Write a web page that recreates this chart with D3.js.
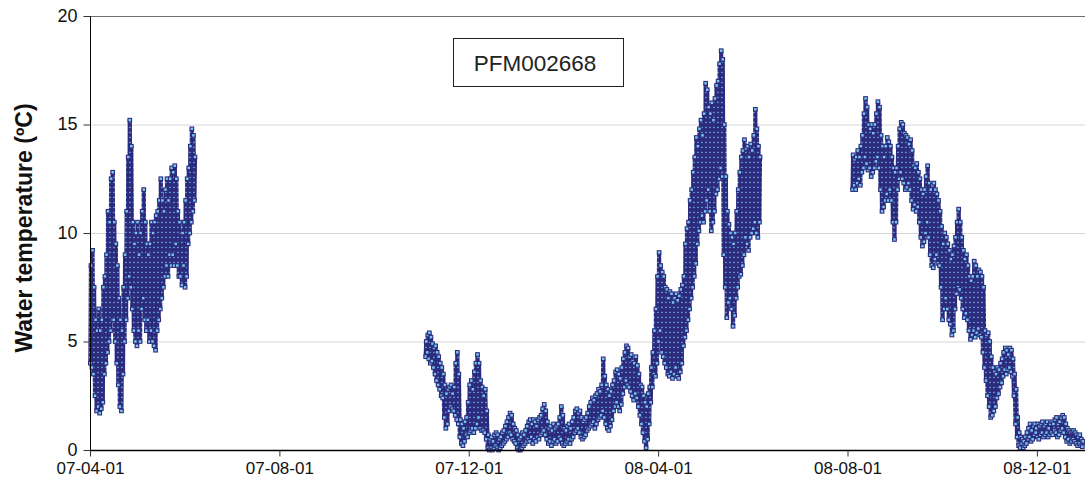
<!DOCTYPE html>
<html><head><meta charset="utf-8">
<script src="https://cdn.jsdelivr.net/npm/d3@7"></script>
<style>body{margin:0;background:#fff}svg{display:block}</style>
</head><body>
<svg id="chart" width="1085" height="496"></svg>
<script>
// ---- data ----
const yTicks = [0, 5, 10, 15, 20];
const xTickLabels = ["07-04-01", "07-08-01", "07-12-01", "08-04-01", "08-08-01", "08-12-01"];
const seriesName = "PFM002668";
const yTitle = "Water temperature (ºC)";

// daily low (early morning) and high (afternoon) readings per logging period
const seg1Start = "2007-04-01";
const seg1Lo = [4.0,3.8,3.5,2.5,1.8,2.0,1.7,1.9,2.2,3.5, 4.0,4.5,5.0,5.5,6.0,6.0,5.0,4.0,3.0,2.0,
  1.8,3.5,5.0,6.0,7.0,8.0,7.5,6.5,5.5,5.0, 4.8,5.5,5.0,6.5,7.0,6.0,5.5,6.0,5.0,5.5,
  5.0,4.8,4.6,5.5,6.0,6.5,7.0,7.5,8.0,8.5, 8.0,9.0,8.5,9.0,8.5,9.5,8.5,8.0,8.0,7.6,
  8.5,7.5,8.0,9.5,10.0,10.5,11.0,11.5];
const seg1Hi = [8.5,9.2,7.5,6.0,5.5,6.5,5.5,6.0,7.5,8.0, 9.0,11.0,10.5,12.5,12.8,10.5,9.5,8.5,7.0,6.0,
  5.5,7.5,9.0,11.0,13.5,15.2,14.0,10.5,9.5,10.0, 10.5,9.0,10.0,11.0,12.0,10.5,9.5,9.0,9.5,10.5,
  10.0,10.5,10.8,11.0,11.5,12.5,11.5,11.0,12.0,12.5, 11.5,12.5,13.0,12.8,13.1,12.5,11.0,10.5,10.0,10.0,
  10.5,11.5,12.5,13.0,14.0,14.8,14.5,13.5];

const seg2Start = "2007-11-03";
const seg2Lo = [4.3,4.5,4.2,4.0,4.1,3.8,3.5,3.2,3.0,2.8, 2.5,2.4,1.5,1.0,1.2,1.8,2.0,1.9,1.8,1.6,
  1.4,1.2,0.6,0.3,0.2,0.4,0.7,0.6,0.8,0.9, 1.0,0.8,1.0,1.2,1.5,1.0,0.9,0.9,0.8,0.5,
  0.1,0.0,0.1,0.0,0.1,0.2,0.1,0.0,0.1,0.2, 0.3,0.4,0.5,0.6,0.8,0.7,0.5,0.4,0.3,0.1,
  0.0,0.0,0.1,0.2,0.3,0.4,0.5,0.4,0.6,0.3, 0.5,0.4,0.6,0.5,0.7,0.8,0.9,0.7,0.5,0.3,
  0.4,0.2,0.4,0.5,0.3,0.4,0.6,0.5,0.3,0.2, 0.3,0.4,0.5,0.3,0.5,0.6,0.8,0.9,1.0,0.8,
  0.6,0.5,0.6,0.7,0.9,1.0,1.1,1.2,1.3,1.0, 1.2,1.4,1.5,1.6,1.8,1.5,1.2,1.0,0.9,1.1,
  1.4,1.8,2.0,2.2,2.0,1.8,2.1,2.6,2.9,3.2, 3.0,2.9,2.7,2.5,2.3,2.6,2.4,2.0,1.6,1.2,
  0.8,0.4,0.1,0.5,1.2,2.2,2.9,3.5,3.4,4.0, 5.0,5.5,4.5,4.3,4.0,3.8,3.5,3.4,3.6,3.3,
  3.5,3.8,3.4,3.3,3.6,4.0,4.8,5.2,5.5,6.0, 6.5,7.0,7.5,8.0,8.6,9.5,10.1,10.5,10.8,10.5,
  11.0,11.5,12.0,11.0,10.1,10.5,11.0,11.8,12.0,12.5, 13.0,12.6,9.0,7.5,6.1,6.8,7.0,6.5,5.7,6.2,
  7.0,7.5,8.0,8.1,8.5,9.0,9.8,9.5,9.2,9.8, 10.0,10.2,10.5,10.0,9.8,10.5];
const seg2Hi = [5.0,5.3,5.4,5.2,4.9,4.7,4.8,4.5,4.3,4.0, 3.8,3.5,3.0,2.6,2.8,2.9,3.0,2.6,2.9,4.0,
  4.5,3.5,1.4,1.2,1.0,1.3,1.5,2.2,3.0,3.2, 2.8,3.6,4.0,4.4,4.0,3.2,2.9,2.5,2.8,1.8,
  0.7,0.5,0.6,0.4,0.7,0.8,0.7,0.5,0.6,0.8, 0.9,1.1,1.3,1.5,1.7,1.6,1.2,1.0,0.9,0.7,
  0.5,0.6,0.8,0.7,0.9,1.1,1.3,1.4,1.2,1.4, 1.3,1.1,1.4,1.5,1.6,1.9,2.1,1.8,1.3,1.0,
  1.1,0.9,1.2,1.0,1.1,1.2,1.5,2.0,1.6,1.0, 0.9,1.1,1.2,1.0,1.3,1.5,1.8,1.9,1.7,1.8,
  1.5,1.3,1.4,1.5,1.7,2.0,2.2,2.4,2.3,2.5, 2.6,2.8,2.7,3.0,4.2,3.4,3.0,2.8,2.5,2.7,
  3.0,3.2,3.6,3.7,3.5,3.3,3.8,4.2,4.5,4.8, 4.7,4.3,4.4,4.1,4.0,4.3,3.9,3.5,3.0,2.9,
  2.5,2.2,2.0,2.6,2.9,3.8,4.5,5.5,6.5,8.0, 9.1,8.5,8.2,8.0,7.5,7.4,7.0,7.3,7.2,6.8,
  7.0,7.2,6.9,7.1,7.4,7.6,8.0,9.5,10.2,10.5, 11.5,12.0,12.8,13.5,14.4,14.0,14.8,15.2,14.5,15.5,
  16.9,16.6,15.8,15.5,16.0,15.2,16.2,16.8,17.0,17.8, 18.4,18.0,15.0,12.6,11.0,10.4,10.0,9.8,9.5,10.0,
  11.0,12.0,12.8,13.5,13.8,14.3,13.9,14.0,13.5,14.1, 13.8,14.5,15.7,14.8,14.0,13.5];

const seg3Start = "2008-08-04";
const seg3Lo = [12.0,12.2,12.0,12.3,12.5,12.2,12.8,13.0,13.5,13.2, 12.9,13.0,12.6,12.8,13.0,13.3,13.5,13.0,12.0,11.0,
  11.2,11.5,11.8,11.5,12.0,11.5,10.5,9.7,10.5,12.0, 12.5,12.8,12.5,12.3,12.0,12.1,12.3,12.0,11.5,11.1,
  11.3,11.0,11.2,10.5,9.8,9.4,9.6,10.0,10.5,9.8, 9.0,8.5,8.4,8.8,9.0,8.6,8.5,7.5,6.0,6.5,
  7.0,6.5,6.0,5.8,5.3,5.5,6.5,7.2,7.5,7.4, 7.0,6.5,6.1,6.3,6.0,5.5,5.1,5.3,5.5,5.2,
  5.4,5.6,5.3,5.2,4.5,3.8,3.2,2.5,2.0,1.5, 1.6,1.8,2.0,2.4,2.6,2.9,3.1,3.4,3.7,3.5,
  3.7,3.8,3.6,3.4,2.5,1.2,0.6,0.2,0.1,0.3, 0.1,0.2,0.3,0.5,0.6,0.4,0.5,0.7,0.8,0.6,
  0.5,0.7,0.8,0.6,0.7,0.8,0.6,0.7,0.8,0.7, 0.9,0.8,0.6,0.7,0.9,1.0,0.8,0.6,0.4,0.5,
  0.3,0.4,0.5,0.4,0.3,0.2,0.3,0.2,0.15];
const seg3Hi = [13.6,13.4,13.5,13.8,13.5,14.0,14.5,15.5,16.2,15.8, 15.0,14.8,15.0,14.6,15.0,15.5,16.05,15.8,14.5,14.0,
  13.5,14.0,14.4,14.2,14.0,13.5,13.0,12.8,13.0,14.0, 14.8,15.1,15.0,14.6,14.5,14.4,14.1,14.3,13.8,13.1,
  13.0,13.2,12.8,12.5,12.0,11.8,12.0,12.6,13.1,12.3, 12.0,12.2,12.3,12.0,11.8,11.5,11.0,10.3,9.5,10.0,
  9.8,9.5,9.2,8.8,9.0,9.4,9.8,10.5,11.1,10.5, 9.8,9.2,8.8,9.0,8.5,8.0,7.8,8.0,8.7,8.5,
  8.0,8.3,8.2,8.0,7.5,5.5,5.3,5.4,5.0,4.3, 3.8,3.6,3.5,3.8,3.7,4.0,4.2,4.5,4.7,4.6,
  4.4,4.7,4.6,4.2,3.5,2.8,1.5,0.8,0.6,0.5, 0.4,0.6,0.8,1.0,1.2,0.9,1.1,1.2,1.0,1.2,
  1.1,1.2,1.3,1.1,1.2,1.3,1.0,1.2,1.3,1.2, 1.4,1.5,1.2,1.3,1.5,1.6,1.5,1.2,1.0,0.9,
  0.8,0.85,0.9,0.8,0.7,0.6,0.7,0.5,0.4];

// ---- chart ----
const M = {left: 90, right: 1085, top: 16, bottom: 450};
const parseISO = d3.utcParse("%Y-%m-%d");
const parseTick = d3.utcParse("%y-%m-%d");
const fmtTick = d3.utcFormat("%y-%m-%d");
const navy = "#2c2a7c", light = "#78c6f0";
const font = "Liberation Sans, Arial, sans-serif";

const x = d3.scaleUtc().domain([parseISO("2007-04-01"), parseISO("2009-01-01")]).range([M.left, M.right]);
const y = d3.scaleLinear().domain([0, 20]).range([M.bottom, M.top]);

const svg = d3.select("#chart");

// texture imitating densely packed square markers
const defs = svg.append("defs");
const pat = defs.append("pattern").attr("id", "dense").attr("patternUnits", "userSpaceOnUse")
  .attr("width", 4).attr("height", 5);
pat.append("rect").attr("width", 4).attr("height", 5).attr("fill", navy);
pat.append("rect").attr("x", 1.3).attr("y", 1.8).attr("width", 1.3).attr("height", 1.3).attr("fill", light);

// gridlines
svg.append("g").selectAll("line").data(yTicks.filter(v => v > 0 && v < 20)).join("line")
  .attr("x1", M.left).attr("x2", M.right)
  .attr("y1", d => y(d) + 0.5).attr("y2", d => y(d) + 0.5)
  .attr("stroke", "#d6d6d6").attr("stroke-width", 1);
// top frame line at 20
svg.append("line").attr("x1", M.left).attr("x2", M.right)
  .attr("y1", y(20) + 0.5).attr("y2", y(20) + 0.5)
  .attr("stroke", "#6e6e6e").attr("stroke-width", 1.2);

function readings(start, lo, hi) {
  const t0 = parseISO(start);
  const out = [];
  lo.forEach((v, i) => {
    out.push({t: d3.utcHour.offset(d3.utcDay.offset(t0, i), 6), v: v});
    out.push({t: d3.utcHour.offset(d3.utcDay.offset(t0, i), 15), v: hi[i]});
  });
  return out;
}
const segments = [
  readings(seg1Start, seg1Lo, seg1Hi),
  readings(seg2Start, seg2Lo, seg2Hi),
  readings(seg3Start, seg3Lo, seg3Hi)
];

const line = d3.line().x(d => x(d.t)).y(d => y(d.v));
const gData = svg.append("g");
segments.forEach(seg => {
  gData.append("path").attr("d", line(seg)).attr("fill", "none")
    .attr("stroke", "url(#dense)").attr("stroke-width", 4.2).attr("stroke-linejoin", "miter");
});
const ms = 3.6;
segments.forEach(seg => {
  gData.append("g").selectAll("rect").data(seg).join("rect")
    .attr("x", d => x(d.t) - ms / 2).attr("y", d => y(d.v) - ms / 2)
    .attr("width", ms).attr("height", ms)
    .attr("fill", light).attr("stroke", navy).attr("stroke-width", 1.1);
});

// axes
const yAxis = d3.axisLeft(y).tickValues(yTicks).tickSize(7).tickPadding(6).tickFormat(d3.format("d"));
const gy = svg.append("g").attr("transform", `translate(${M.left + 0.5},0)`).call(yAxis);
gy.select(".domain").attr("d", `M0,${y(20)}V${y(0) + 6}`).attr("stroke", "#000");
gy.selectAll(".tick line").attr("stroke", "#333");
gy.selectAll("text").attr("font-family", font).attr("font-size", 18).attr("fill", "#111").attr("dy", "0.3em");

const xAxis = d3.axisBottom(x).tickValues(xTickLabels.map(parseTick)).tickFormat(fmtTick).tickSize(6).tickPadding(5);
const gx = svg.append("g").attr("transform", `translate(0,${M.bottom + 0.5})`).call(xAxis);
gx.select(".domain").attr("d", `M${M.left},0H${M.right}`).attr("stroke", "#000").attr("stroke-width", 1.3);
gx.selectAll(".tick line").attr("stroke", "#333");
gx.selectAll("text").attr("font-family", font).attr("font-size", 17).attr("fill", "#111");

// y title
svg.append("text")
  .attr("transform", `translate(32,228) rotate(-90)`)
  .attr("text-anchor", "middle")
  .attr("font-family", font)
  .attr("font-weight", "bold").attr("font-size", 23).attr("fill", "#111")
  .text(yTitle);

// series label box
svg.append("rect").attr("x", 453.5).attr("y", 38.5).attr("width", 170).attr("height", 48)
  .attr("fill", "#fff").attr("stroke", "#222").attr("stroke-width", 1);
svg.append("text").attr("x", 535).attr("y", 71).attr("text-anchor", "middle")
  .attr("font-family", font).attr("font-size", 22.5).attr("fill", "#222")
  .text(seriesName);
</script>
</body></html>
